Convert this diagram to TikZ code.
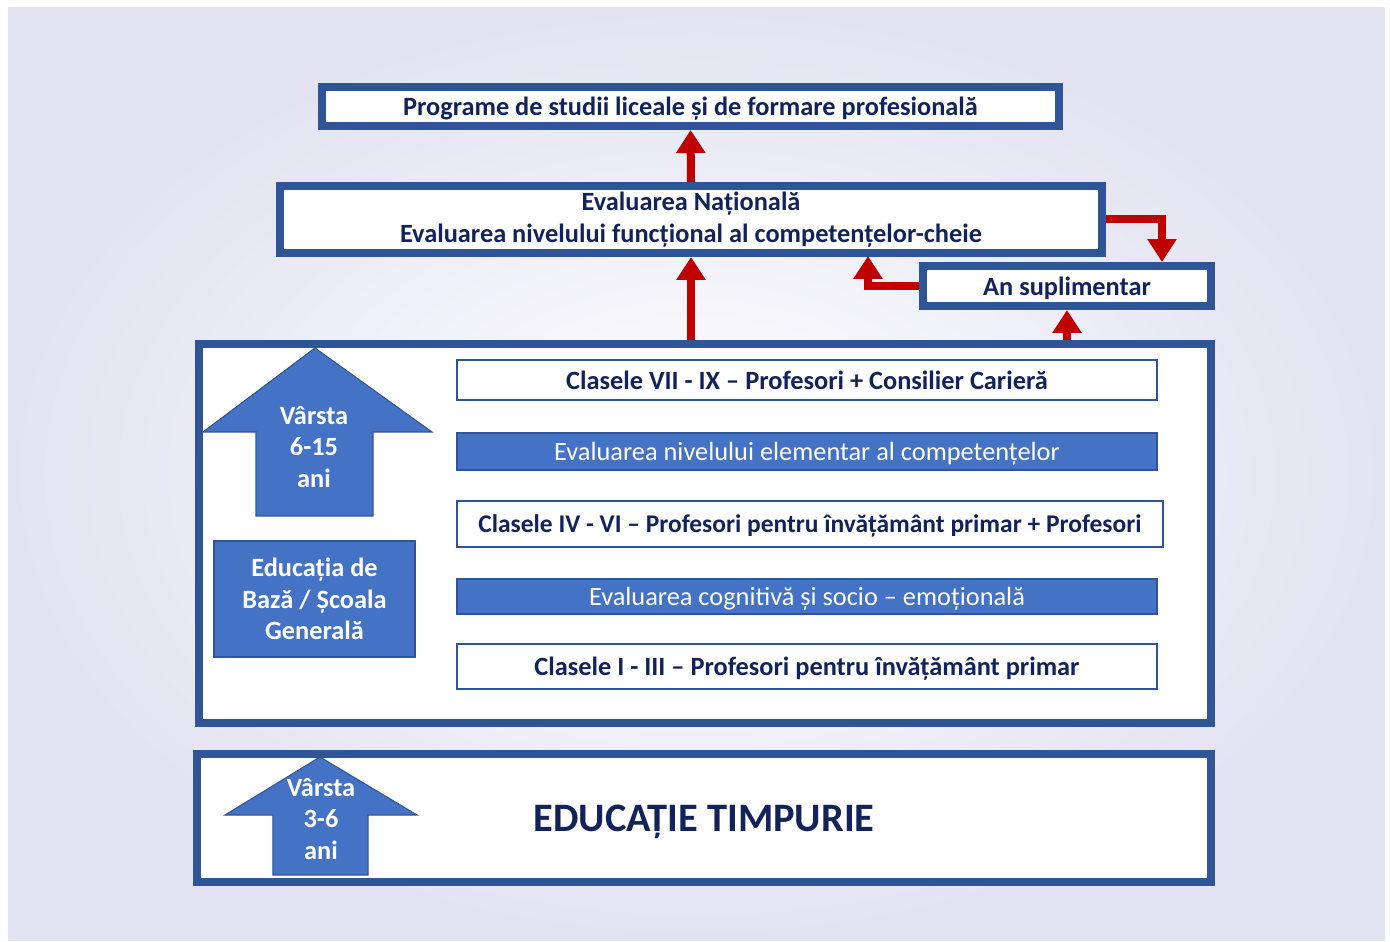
\documentclass[tikz,border=0pt]{standalone}
\usepackage{fontspec}
\setmainfont{Carlito}
\usetikzlibrary{arrows.meta}

\definecolor{frameblue}{RGB}{47,85,151}
\definecolor{fillblue}{RGB}{68,114,196}
\definecolor{navy}{RGB}{18,34,90}
\definecolor{arrowred}{RGB}{192,0,0}
\definecolor{bglav}{RGB}{227,227,242}

\begin{document}
\begin{tikzpicture}[x=0.02cm,y=-0.02cm,
  thickbox/.style={draw=frameblue,line width=0.16cm,fill=white,inner sep=0pt,
    font=\bfseries\fontsize{15}{18}\selectfont,text=navy,align=center},
  oneline/.style={text depth=0pt},
  classbox/.style={draw=frameblue,line width=0.8pt,fill=white,inner sep=0pt,text depth=0pt,
    font=\bfseries\fontsize{15}{18}\selectfont,text=navy},
  evalbar/.style={draw=frameblue,line width=0.8pt,fill=fillblue,inner sep=0pt,text depth=0pt,
    font=\fontsize{15}{18}\selectfont,text=white},
  agearrow/.style={fill=fillblue,draw=frameblue,line width=0.6pt},
  whitetext/.style={text=white,font=\bfseries\fontsize{15}{18}\selectfont,align=center},
  redarrow/.style={draw=arrowred,line width=0.16cm,-{Triangle[width=0.56cm,length=0.46cm]}}]
\useasboundingbox (0,0) rectangle (1390,942);
\shade[inner color=white,outer color=bglav] (8,8) rectangle (1385,940);

% upper levels
\node[thickbox,oneline,minimum width=14.74cm,minimum height=0.78cm] (top) at (690.5,106.5)
  {Programe de studii liceale și de formare profesională};
\node[thickbox,minimum width=16.44cm,minimum height=1.34cm] (en) at (691,219.5)
  {Evaluarea Națională\\Evaluarea nivelului funcțional al competențelor-cheie};
\node[thickbox,oneline,minimum width=5.76cm,minimum height=0.8cm] (supl) at (1067,286)
  {An suplimentar};

% basic school
\node[thickbox,minimum width=20.24cm,minimum height=7.58cm] (basic) at (705,533.5) {};
\fill[agearrow] (315,348) -- (432,432) -- (373,432) -- (373,516) -- (256,516)
  -- (256,432) -- (203,432) -- cycle;
\node[whitetext] (age1) at (314,447) {Vârsta\\6-15\\ani};
\node[evalbar,whitetext,text depth=,minimum width=4.02cm,minimum height=2.32cm] (gen) at (314.5,599)
  {Educația de\\Bază / Școala\\Generală};

\node[classbox,minimum width=14cm,minimum height=0.8cm] (c79) at (807,380)
  {Clasele VII - IX -- Profesori + Consilier Carieră};
\node[evalbar,minimum width=14cm,minimum height=0.74cm] (ev1) at (807,451.5)
  {Evaluarea nivelului elementar al competențelor};
\node[classbox,minimum width=14.12cm,minimum height=0.92cm,
  font=\bfseries\fontsize{14.5}{18}\selectfont] (c46) at (810,524)
  {Clasele IV - VI -- Profesori pentru învățământ primar + Profesori};
\node[evalbar,minimum width=14cm,minimum height=0.7cm] (ev2) at (807,596.5)
  {Evaluarea cognitivă și socio -- emoțională};
\node[classbox,minimum width=14cm,minimum height=0.9cm] (c13) at (807,666.5)
  {Clasele I - III -- Profesori pentru învățământ primar};

% early education
\node[thickbox,oneline,minimum width=20.28cm,minimum height=2.56cm,
  font=\bfseries\fontsize{23}{26}\selectfont] (early) at (704,818) {EDUCAȚIE TIMPURIE};
\fill[agearrow] (320,757) -- (417,815) -- (368,815) -- (368,875) -- (273,875)
  -- (273,815) -- (225,815) -- cycle;
\node[whitetext] (age2) at (321,819) {Vârsta\\3-6\\ani};

% red arrows
\coordinate (sd) at (1162,262);
\coordinate (su) at (868,256);
\draw[redarrow] (en.north) -- (top.south);
\draw[redarrow] (basic.north -| en.south) -- (en.south);
\draw[redarrow] (en.east) -| (sd);
\draw[redarrow] (supl.west) -| (su);
\draw[redarrow] (supl.south |- basic.north) -- (supl.south);
\end{tikzpicture}
\end{document}
